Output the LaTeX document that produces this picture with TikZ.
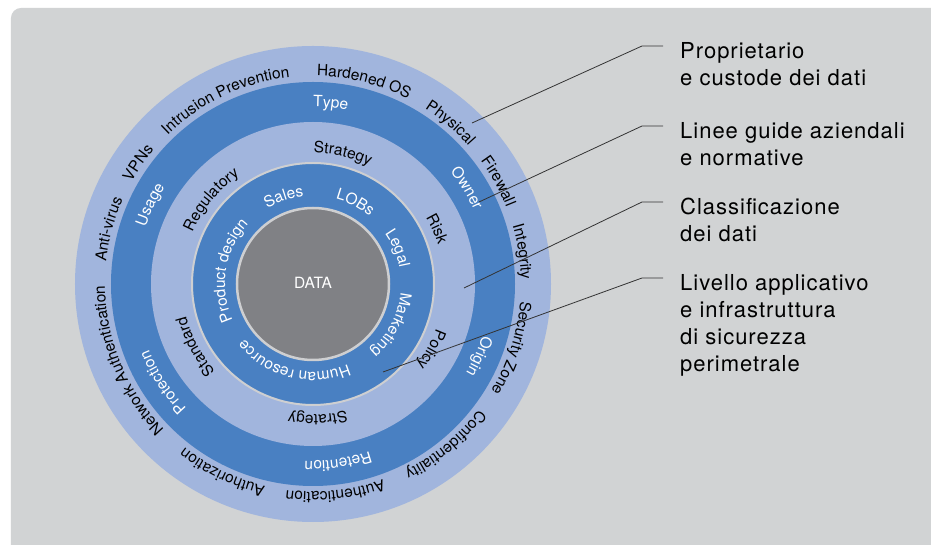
\documentclass[tikz,border=0pt]{standalone}
\usepackage{fontspec}
\setmainfont{TeX Gyre Heros}
\newfontfamily\lblfam[LetterSpace=4.5]{TeX Gyre Heros}
\usetikzlibrary{decorations.text}

\definecolor{panelgray}{RGB}{209,211,212}
\definecolor{ringlight}{RGB}{161,181,221}
\definecolor{ringdark}{RGB}{73,128,194}
\definecolor{coregray}{RGB}{128,129,133}
\definecolor{rimgray}{RGB}{206,207,209}

\newcommand\ringfont{\fontsize{15.5}{18}\selectfont}
\newcommand\ringtext[4][ringword]{%
  \pgfmathsetmacro\ringa{#3+70}\pgfmathsetmacro\ringb{#3-70}%
  \path[#1, decoration={text={|\ringfont|#4}}]
    (\ringa:#2) arc[start angle=\ringa, end angle=\ringb, radius=#2];}

\begin{document}
\begin{tikzpicture}[x=1pt, y=1pt,
  ringword/.style={decorate, decoration={text along path, text align=center, text color=black}},
  ringwhite/.style={decorate, decoration={text along path, text align=center, text color=white}},
  leader/.style={draw=black!80, line width=0.8pt},
  lbl/.style={font=\lblfam\fontsize{22}{27}\selectfont, align=left, inner sep=0pt, anchor=north west}]

\clip (-313,-261) rectangle (618,284);
\fill[white] (-313,-261) rectangle (618,284);
\fill[panelgray, rounded corners=10pt] (-302,276) rectangle (640,-290);

\fill[ringlight] (0,0) circle[radius=238];
\fill[ringdark] (0,0) circle[radius=202];
\fill[ringlight] (0,0) circle[radius=162];
\filldraw[ringdark, draw=rimgray, line width=2pt] (0,0) circle[radius=121];
\filldraw[coregray, draw=rimgray, line width=2.5pt] (0,0) circle[radius=76];
\node[text=white, font=\ringfont] (data) at (0,1) {DATA};

\ringtext{208}{115.4}{Intrusion Prevention}
\ringtext{208}{75.9}{Hardened OS}
\ringtext{208}{49.5}{Physical}
\ringtext{208}{29}{Firewall}
\ringtext{208}{8.8}{Integrity}
\ringtext{208}{-17.9}{Security Zone}
\ringtext{208}{-50.5}{Confidentiality}
\ringtext{208}{-83.9}{Authentication}
\ringtext{208}{-115.7}{Authorization}
\ringtext{208}{202.4}{Network Authentication}
\ringtext{208}{165}{Anti-virus}
\ringtext{208}{145.3}{VPNs}

\ringtext[ringwhite]{177}{84.4}{Type}
\ringtext[ringwhite]{177}{31.9}{Owner}
\ringtext[ringwhite]{177}{-23.5}{Origin}
\ringtext[ringwhite]{177}{-82}{Retention}
\ringtext[ringwhite]{177}{-146.8}{Protection}
\ringtext[ringwhite]{177}{154}{Usage}

\ringtext{131}{77.1}{Strategy}
\ringtext{131}{24}{Risk}
\ringtext{131}{-29}{Policy}
\ringtext{131}{-88}{Strategy}
\ringtext{131}{-152}{Standard}
\ringtext{131}{140.4}{Regulatory}

\ringtext[ringwhite]{88}{108.6}{Sales}
\ringtext[ringwhite]{88}{62.5}{LOBs}
\ringtext[ringwhite]{88}{23}{Legal}
\ringtext[ringwhite]{88}{-27.4}{Marketing}
\ringtext[ringwhite]{88}{-103.9}{Human resource}
\ringtext[ringwhite]{88}{170.7}{Product design}

\coordinate (tip1) at (159,161);
\coordinate (bend1) at (329,238);
\coordinate (end1) at (350,238);
\coordinate (tip2) at (166,82);
\coordinate (bend2) at (329,158);
\coordinate (end2) at (350,158);
\coordinate (tip3) at (151,-4);
\coordinate (bend3) at (329,82);
\coordinate (end3) at (350,82);
\coordinate (tip4) at (70,-88);
\coordinate (bend4) at (329,6);
\coordinate (end4) at (350,6);

\node[lbl] (owner) at ([shift={(17,4)}]end1) {Proprietario\\e custode dei dati};
\node[lbl] (policy) at ([shift={(17,4)}]end2) {Linee guide aziendali\\e normative};
\node[lbl] (classes) at ([shift={(17,4)}]end3) {Classificazione\\dei dati};
\node[lbl] (perimeter) at ([shift={(17,4)}]end4) {Livello applicativo\\e infrastruttura\\di sicurezza\\perimetrale};

\draw[leader] (tip1) -- (bend1) -- (end1);
\draw[leader] (tip2) -- (bend2) -- (end2);
\draw[leader] (tip3) -- (bend3) -- (end3);
\draw[leader] (tip4) -- (bend4) -- (end4);

\end{tikzpicture}
\end{document}
